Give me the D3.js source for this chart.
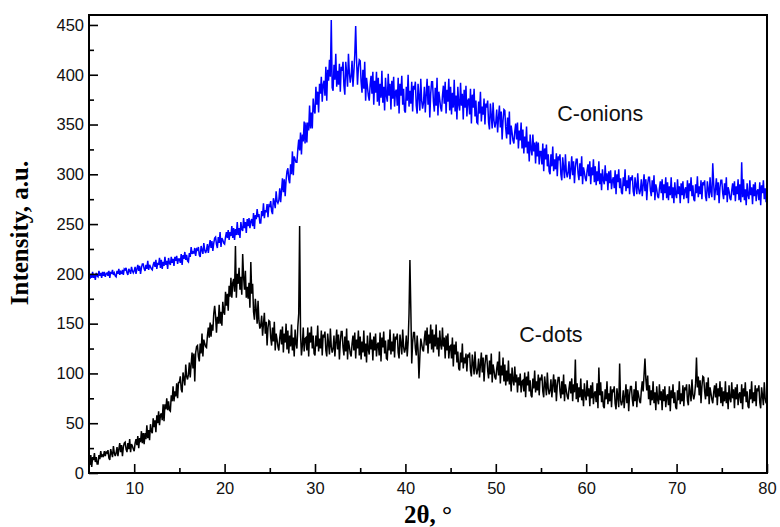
<!DOCTYPE html>
<html>
<head>
<meta charset="utf-8">
<script src="https://cdn.jsdelivr.net/npm/d3@7/dist/d3.min.js"></script>
<style>
  html, body { margin: 0; padding: 0; background: #fff; }
  svg { display: block; }
</style>
</head>
<body>
<svg id="chart" width="780" height="527"></svg>
<script>
// 2θ sampling of the scans (degrees)
const thetaStart = 5;
const thetaStep = 0.1;

// Axis ticks
const xMajorTicks = [10, 20, 30, 40, 50, 60, 70, 80];
const xMinorTicks = [15, 25, 35, 45, 55, 65, 75];
const yMajorTicks = [0, 50, 100, 150, 200, 250, 300, 350, 400, 450];
const yMinorTicks = [25, 75, 125, 175, 225, 275, 325, 375, 425];

// Series labels
const seriesNames = ["C-onions", "C-dots"];

// C-onions intensity, one row per degree (5.0 ... 79.9), then 80.0
const cOnions = [
200,195,199,196,202,196,199,194,201,198,
197,203,198,201,196,202,198,202,197,200,
201,198,203,196,202,200,204,199,201,198,
197,203,200,205,199,202,200,204,199,205,
204,206,201,199,205,203,200,207,203,201,
203,207,200,205,209,203,208,200,206,210,
210,205,203,209,205,213,204,209,207,205,
204,209,212,207,214,205,211,209,216,206,
214,205,212,208,217,209,213,205,216,211,
209,217,211,215,208,217,213,218,210,215,
215,211,220,209,219,215,222,214,219,213,
212,221,217,227,220,222,221,226,218,225,
224,227,219,217,228,224,220,231,224,221,
224,230,221,228,234,226,233,223,231,236,
237,230,226,237,231,242,227,236,234,231,
230,237,242,236,244,234,242,238,248,236,
246,234,245,239,252,239,246,236,252,245,
243,256,246,252,241,255,248,256,246,253,
255,248,261,245,259,255,265,257,260,251,
251,263,258,271,256,264,262,270,257,269,
268,273,263,260,276,272,266,283,273,271,
274,286,272,284,296,282,295,278,294,303,
306,295,291,310,300,323,299,318,315,312,
312,325,335,324,342,320,340,333,353,331,
352,332,352,344,369,346,362,346,376,364,
361,388,370,383,362,391,381,398,373,390,
394,379,408,374,405,394,415,398,455,387,
384,410,395,421,388,404,390,411,383,408,
404,413,389,380,413,402,388,421,402,392,
399,414,388,403,420,449,414,390,407,415,
414,393,382,405,386,413,374,397,388,379,
374,390,399,381,403,370,394,382,403,373,
397,369,391,377,404,372,388,364,397,379,
373,401,379,391,365,394,376,398,368,383,
385,369,397,361,391,379,399,370,386,364,
362,388,374,400,368,384,371,393,363,389,
385,393,369,361,391,378,364,396,374,366,
372,388,362,380,396,370,389,357,381,393,
393,373,363,387,369,397,359,383,375,367,
363,379,389,371,393,361,385,373,396,364,
388,360,382,367,395,363,379,355,388,370,
364,392,369,381,355,385,367,389,358,374,
376,360,386,351,380,367,386,358,374,352,
351,373,361,383,353,368,360,376,350,371,
367,374,352,345,371,359,346,372,354,347,
352,365,342,357,369,347,363,335,354,365,
364,346,336,357,340,363,330,349,342,334,
331,343,351,335,352,326,344,334,352,326,
345,321,338,327,348,321,333,313,340,325,
319,340,323,332,311,333,318,332,310,323,
323,310,331,303,326,315,330,308,320,303,
300,320,308,328,303,315,305,321,298,318,
314,320,300,294,317,307,296,320,303,297,
302,313,295,305,318,299,313,291,307,315,
315,301,294,311,298,318,290,307,302,296,
293,304,310,298,313,290,307,299,315,292,
308,289,303,293,313,290,301,284,305,294,
290,309,293,301,284,303,291,304,285,294,
297,286,304,280,300,292,305,286,296,282,
280,297,288,305,283,294,286,299,280,297,
294,299,283,278,297,289,280,301,286,280,
284,295,278,289,300,283,295,274,290,297,
297,284,278,294,282,299,274,290,285,278,
276,286,293,281,295,274,290,281,297,276,
292,274,288,279,297,276,287,271,292,280,
276,295,280,288,271,291,279,293,275,284,
287,276,294,271,291,283,297,278,289,275,
273,290,281,298,277,288,280,294,275,292,
289,294,278,273,293,285,276,297,282,277,
311,291,274,285,296,279,292,271,287,294,
294,281,275,291,279,297,272,287,283,276,
274,284,291,279,293,273,288,280,295,274,
290,272,312,277,295,274,285,269,291,279,
275,294,279,287,270,290,278,292,273,283,
285,274,292,269,289,281,294,275,286,272,
282
];

// C-dots intensity, one row per degree (5.0 ... 79.9), then 80.0
const cDots = [
13,8,18,6,16,13,20,11,16,9,
9,18,14,22,16,18,17,22,17,21,
20,23,15,13,24,20,16,27,20,17,
20,26,17,24,30,21,28,17,26,30,
31,24,21,30,24,34,21,29,27,24,
22,30,34,28,37,25,35,31,42,30,
40,29,40,34,48,35,43,33,49,42,
40,55,46,53,41,58,50,62,48,58,
60,53,69,52,69,64,75,63,72,63,
62,78,72,87,72,82,77,90,75,91,
91,97,84,81,101,95,88,109,97,94,
99,111,96,109,121,105,120,92,121,127,
128,117,112,130,120,140,117,134,130,127,
126,138,146,136,151,137,149,143,160,168,
158,141,157,150,169,150,162,148,172,162,
159,182,168,180,163,188,177,196,176,191,
195,182,228,176,200,190,206,184,197,179,
220,197,184,203,176,187,175,191,166,212,
180,190,162,154,175,164,150,173,153,145,
148,158,138,150,161,140,152,128,146,153,
152,136,128,146,132,152,123,140,134,127,
123,136,144,129,147,121,140,131,150,124,
143,120,138,127,149,123,136,117,144,130,
125,147,160,248,140,118,128,146,122,135,
136,123,146,117,141,131,147,125,138,120,
118,138,127,148,122,135,125,143,118,139,
136,142,123,117,140,130,119,145,127,121,
125,138,117,131,144,124,139,114,132,142,
142,126,118,137,122,145,114,133,127,120,
117,130,138,123,141,115,134,125,143,118,
137,114,132,121,143,117,130,111,138,124,
119,141,124,134,113,137,123,140,117,129,
131,118,141,112,136,126,142,120,133,115,
114,134,123,144,119,132,122,140,116,137,
134,140,121,115,139,130,119,144,127,121,
125,138,117,131,160,214,165,110,131,141,
141,125,118,138,124,95,117,135,130,124,
122,135,143,128,146,120,139,130,149,124,
144,121,139,127,149,124,136,117,143,129,
124,146,127,136,115,138,123,140,115,127,
128,115,136,107,129,119,132,111,122,105,
103,121,111,130,105,116,110,120,102,119,
116,121,103,97,119,110,99,122,105,99,
104,115,96,109,121,101,116,92,109,118,
118,103,95,113,99,120,91,109,103,96,
94,105,112,98,122,90,108,98,116,92,
109,88,103,92,113,89,100,82,106,93,
88,107,91,99,81,96,88,100,81,92,
93,82,101,76,97,88,102,82,93,78,
76,95,85,103,81,92,83,99,78,96,
93,99,82,76,97,88,78,101,85,79,
83,94,76,88,99,81,94,72,88,96,
96,82,75,92,79,99,72,89,83,77,
74,85,92,80,95,72,89,81,114,74,
90,71,86,76,95,73,84,67,90,78,
73,93,77,85,67,88,75,91,69,80,
82,71,90,65,106,78,91,71,82,67,
65,84,74,92,69,80,72,87,66,84,
81,87,70,64,85,76,66,110,73,68,
72,83,65,77,89,70,84,62,79,87,
87,74,67,84,72,92,66,83,78,72,
70,83,92,82,99,115,94,83,98,74,
88,68,83,73,92,70,81,63,87,74,
69,89,73,82,63,84,72,87,66,77,
79,68,87,62,83,75,89,70,81,66,
64,83,73,92,69,80,72,88,67,86,
83,89,73,68,89,81,72,94,79,74,
79,90,116,86,97,78,93,70,87,97,
96,82,74,91,77,96,69,86,80,74,
70,81,88,76,90,68,85,77,92,70,
86,67,82,72,92,70,81,64,88,75,
71,91,75,84,65,86,74,89,68,79,
81,70,89,64,85,77,91,71,82,67,
65,84,74,92,70,81,72,88,67,85,
82,88,71,65,86,78,68,91,75,70,
78
];

// ---------- drawing ----------
(function () {
  const svg = d3.select("#chart");
  const pLeft = 89, pRight = 767, pTop = 15, pBottom = 473;

  const x = d3.scaleLinear().domain([5, 80]).range([pLeft, pRight]);
  const y = d3.scaleLinear().domain([0, 460]).range([pBottom, pTop]);

  const tickFont = "'Liberation Sans', Arial, sans-serif";
  const titleFont = "'Liberation Serif', 'Times New Roman', serif";

  const toPoints = arr => arr.map((v, i) => [thetaStart + i * thetaStep, v]);

  svg.append("clipPath").attr("id", "plotclip")
    .append("rect").attr("x", pLeft).attr("y", pTop)
    .attr("width", pRight - pLeft).attr("height", pBottom - pTop);

  const line = d3.line().x(d => x(d[0])).y(d => y(d[1]));

  const g = svg.append("g").attr("clip-path", "url(#plotclip)");
  g.append("path").datum(toPoints(cDots))
    .attr("d", line).attr("fill", "none")
    .attr("stroke", "#000000").attr("stroke-width", 1.5)
    .attr("stroke-linejoin", "miter").attr("stroke-miterlimit", 3);
  g.append("path").datum(toPoints(cOnions))
    .attr("d", line).attr("fill", "none")
    .attr("stroke", "#0000ff").attr("stroke-width", 1.5)
    .attr("stroke-linejoin", "miter").attr("stroke-miterlimit", 3);

  const xAxis = d3.axisBottom(x).tickValues(xMajorTicks).tickSize(-9).tickSizeOuter(0).tickPadding(9)
    .tickFormat(d3.format("d"));
  const xAxisMinor = d3.axisBottom(x).tickValues(xMinorTicks).tickSize(-5).tickSizeOuter(0).tickFormat("");
  const yAxis = d3.axisLeft(y).tickValues(yMajorTicks).tickSize(-9).tickSizeOuter(0).tickPadding(5)
    .tickFormat(d3.format("d"));
  const yAxisMinor = d3.axisLeft(y).tickValues(yMinorTicks).tickSize(-5).tickSizeOuter(0).tickFormat("");

  function styleAxis(sel) {
    sel.select(".domain").remove();
    sel.selectAll(".tick line").attr("stroke", "#000").attr("stroke-width", 1.6);
    sel.selectAll(".tick text").attr("fill", "#111")
      .style("font-family", tickFont).style("font-size", "16.5px");
  }

  svg.append("g").attr("transform", `translate(0,${pBottom})`).call(xAxis).call(styleAxis);
  svg.append("g").attr("transform", `translate(0,${pBottom})`).call(xAxisMinor).call(styleAxis);
  svg.append("g").attr("transform", `translate(${pLeft},0)`).call(yAxis).call(styleAxis);
  svg.append("g").attr("transform", `translate(${pLeft},0)`).call(yAxisMinor).call(styleAxis);

  svg.append("rect").attr("x", pLeft).attr("y", pTop)
    .attr("width", pRight - pLeft).attr("height", pBottom - pTop)
    .attr("fill", "none").attr("stroke", "#000").attr("stroke-width", 2);

  svg.append("text").text("2θ, °")
    .attr("x", (pLeft + pRight) / 2).attr("y", 523)
    .attr("text-anchor", "middle")
    .style("font-family", titleFont).style("font-weight", "bold").style("font-size", "25px");

  svg.append("text").text("Intensity, a.u.")
    .attr("transform", "translate(28,233) rotate(-90)")
    .attr("text-anchor", "middle")
    .style("font-family", titleFont).style("font-weight", "bold").style("font-size", "25px");

  svg.append("text").text(seriesNames[0])
    .attr("x", x(56.8)).attr("y", 121)
    .style("font-family", tickFont).style("font-size", "21.5px").attr("fill", "#111");
  svg.append("text").text(seriesNames[1])
    .attr("x", x(52.6)).attr("y", 342)
    .style("font-family", tickFont).style("font-size", "21.5px").attr("fill", "#111");
})();
</script>
</body>
</html>
